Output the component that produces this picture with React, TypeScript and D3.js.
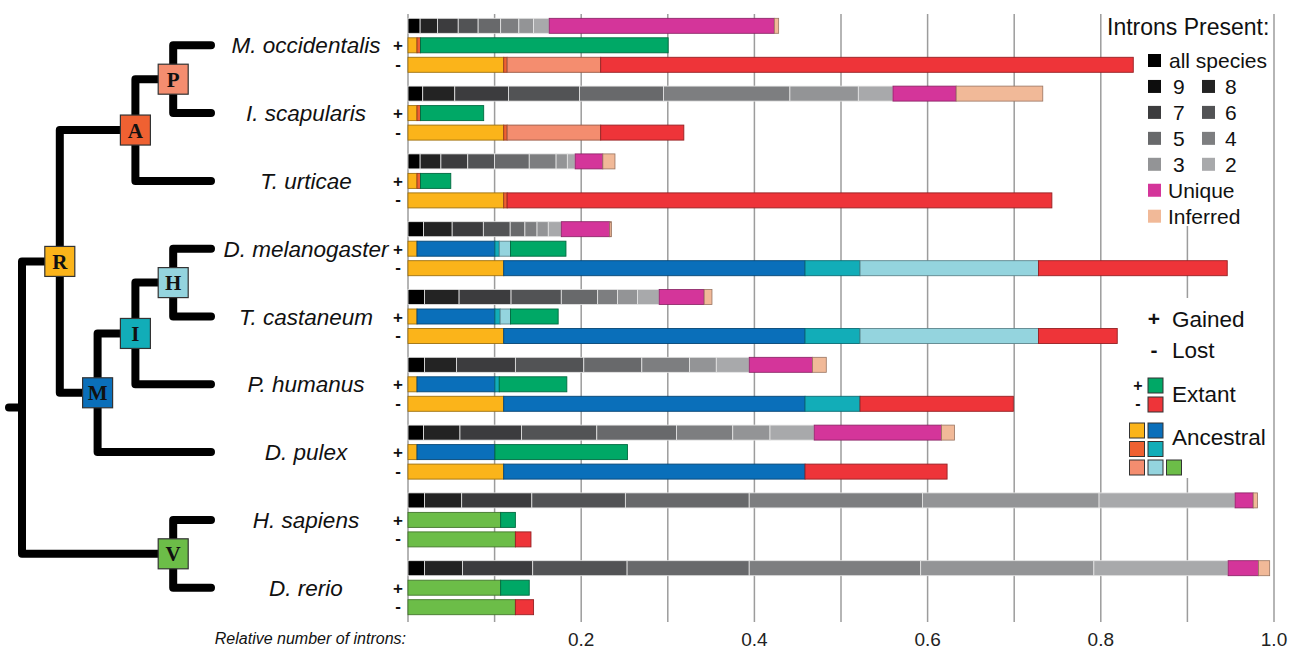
import * as d3 from "d3"

const species = ["M. occidentalis", "I. scapularis", "T. urticae", "D. melanogaster", "T. castaneum", "P. humanus", "D. pulex", "H. sapiens", "D. rerio"]

// introns present in N species (first black block = all species / 9)
const presentAll = [0.014, 0.017, 0.014, 0.018, 0.019, 0.019, 0.018, 0.019, 0.019]
const present8 = [0.020, 0.037, 0.024, 0.033, 0.040, 0.037, 0.042, 0.043, 0.044]
const present7 = [0.024, 0.062, 0.031, 0.036, 0.060, 0.068, 0.071, 0.081, 0.081]
const present6 = [0.023, 0.082, 0.031, 0.031, 0.058, 0.079, 0.087, 0.108, 0.109]
const present5 = [0.026, 0.097, 0.040, 0.017, 0.042, 0.067, 0.092, 0.143, 0.141]
const present4 = [0.021, 0.146, 0.031, 0.014, 0.023, 0.055, 0.065, 0.200, 0.198]
const present3 = [0.017, 0.079, 0.013, 0.013, 0.023, 0.031, 0.043, 0.204, 0.200]
const present2 = [0.018, 0.040, 0.009, 0.015, 0.025, 0.038, 0.051, 0.157, 0.155]
const unique = [0.260, 0.073, 0.032, 0.056, 0.052, 0.073, 0.147, 0.021, 0.035]
const inferred = [0.005, 0.100, 0.014, 0.002, 0.009, 0.016, 0.015, 0.005, 0.013]

// gained (+)
const gainR = [0.0104, 0.0104, 0.0104, 0.0104, 0.0104, 0.0104, 0.0104, 0, 0]
const gainA = [0.004, 0.004, 0.004, 0, 0, 0, 0, 0, 0]
const gainM = [0, 0, 0, 0.090, 0.090, 0.090, 0.090, 0, 0]
const gainI = [0, 0, 0, 0.005, 0.006, 0.005, 0, 0, 0]
const gainH = [0, 0, 0, 0.013, 0.012, 0, 0, 0, 0]
const gainV = [0, 0, 0, 0, 0, 0, 0, 0.107, 0.107]
const gainExtant = [0.286, 0.073, 0.035, 0.064, 0.055, 0.078, 0.153, 0.017, 0.033]

// lost (-)
const lossR = [0.1105, 0.1105, 0.1105, 0.1105, 0.1105, 0.1105, 0.1105, 0, 0]
const lossA = [0.004, 0.004, 0.004, 0, 0, 0, 0, 0, 0]
const lossP = [0.108, 0.108, 0, 0, 0, 0, 0, 0, 0]
const lossM = [0, 0, 0, 0.348, 0.348, 0.348, 0.348, 0, 0]
const lossI = [0, 0, 0, 0.0635, 0.0635, 0.0635, 0, 0, 0]
const lossH = [0, 0, 0, 0.206, 0.206, 0, 0, 0, 0]
const lossV = [0, 0, 0, 0, 0, 0, 0, 0.124, 0.124]
const lossExtant = [0.615, 0.096, 0.629, 0.218, 0.091, 0.177, 0.164, 0.018, 0.021]

// tree: node ids, parents, depth level
const treeIds = ["root", "R", "A", "P", "M", "I", "H", "V", ...species]
const treeParents = ["", "root", "R", "A", "R", "M", "I", "root", "P", "P", "A", "H", "H", "I", "M", "V", "V"]
const treeLevels = [0, 1, 3, 4, 2, 3, 4, 4, 5, 5, 5, 5, 5, 5, 5, 5, 5]

const tickValues = [0.2, 0.4, 0.6, 0.8, 1.0]

const C = {
  R: "#fbb41a", A: "#ef6132", P: "#f48d6f", M: "#0a6fba", I: "#12adb8",
  H: "#94d4de", V: "#6cbd48", gain: "#00a866", loss: "#ee3439",
  unique: "#d4359a", inferred: "#f1b998",
}
const grays = ["#000000", "#0d0d0d", "#232323", "#3c3c3e", "#525355", "#68696b", "#7d7e80", "#939496", "#a8a9ab"]

const presentSeries = [
  { key: "all", vals: presentAll, color: grays[0] },
  { key: "8", vals: present8, color: grays[2] },
  { key: "7", vals: present7, color: grays[3] },
  { key: "6", vals: present6, color: grays[4] },
  { key: "5", vals: present5, color: grays[5] },
  { key: "4", vals: present4, color: grays[6] },
  { key: "3", vals: present3, color: grays[7] },
  { key: "2", vals: present2, color: grays[8] },
  { key: "unique", vals: unique, color: C.unique },
  { key: "inferred", vals: inferred, color: C.inferred },
]
const gainSeries = [
  { key: "R", vals: gainR, color: C.R }, { key: "A", vals: gainA, color: C.A },
  { key: "M", vals: gainM, color: C.M }, { key: "I", vals: gainI, color: C.I },
  { key: "H", vals: gainH, color: C.H }, { key: "V", vals: gainV, color: C.V },
  { key: "ext", vals: gainExtant, color: C.gain },
]
const lossSeries = [
  { key: "R", vals: lossR, color: C.R }, { key: "A", vals: lossA, color: C.A },
  { key: "P", vals: lossP, color: C.P }, { key: "M", vals: lossM, color: C.M },
  { key: "I", vals: lossI, color: C.I }, { key: "H", vals: lossH, color: C.H },
  { key: "V", vals: lossV, color: C.V }, { key: "ext", vals: lossExtant, color: C.loss },
]

const W = 1298
const H = 649
const x = d3.scaleLinear().domain([0, 1]).range([408, 1274])
const ySpecies = d3.scaleBand().domain(species).range([14, 624.2])
const yRow = d3.scaleBand().domain(["present", "gained", "lost"]).range([4.3, 58.3]).paddingInner(0.23)
const treeX = d3.scaleLinear().domain([0, 5]).range([22, 211])

type Ser = { key: string; vals: number[]; color: string }

function stackRows(series: Ser[]) {
  const rows = species.map((s, i) => {
    const r: any = { species: s }
    series.forEach((se) => (r[se.key] = se.vals[i]))
    return r
  })
  return d3.stack().keys(series.map((s) => s.key))(rows)
}

const sans = "'Liberation Sans', Arial, Helvetica, sans-serif"

const Bars = ({ series, row, gray }: { series: Ser[]; row: string; gray?: boolean }) => {
  const stacked = stackRows(series)
  const bh = yRow.bandwidth()
  return (
    <g>
      {stacked.map((layer, li) => {
        const color = series[li].color
        const isGray = gray && li < 8
        const stroke = isGray ? "#e6e6e6" : d3.color(color)!.darker(1.3).formatHex()
        return layer.map((d, i) => {
          const w = x(d[1]) - x(d[0])
          if (w <= 0) return null
          const y = (ySpecies(species[i]) ?? 0) + (yRow(row) ?? 0)
          return (
            <rect key={`${li}-${i}`} x={x(d[0])} y={y} width={w} height={bh}
              fill={color} stroke={stroke} strokeWidth={gray ? 0.8 : 0.9} />
          )
        })
      })}
    </g>
  )
}

export default function App() {
  const root = d3.stratify<{ id: string; parent: string; level: number }>()
    .id((d) => d.id)
    .parentId((d) => d.parent || null)(treeIds.map((id, i) => ({ id, parent: treeParents[i], level: treeLevels[i] })))

  const pos = new Map<string, { x: number; y: number }>()
  const leafY = (s: string) => (ySpecies(s) ?? 0) + (yRow("gained") ?? 0) + yRow.bandwidth() / 2
  root.eachAfter((n) => {
    const px = treeX(n.data.level)
    if (!n.children) pos.set(n.id!, { x: px, y: leafY(n.id!) })
    else {
      const ys = n.children.map((c) => pos.get(c.id!)!.y)
      pos.set(n.id!, { x: px, y: (ys[0] + ys[ys.length - 1]) / 2 })
    }
  })
  const links = root.links()
  const internal = root.descendants().filter((n) => n.children && n.id !== "root")
  const rootPos = pos.get("root")!

  const bh = yRow.bandwidth()

  const pairRows = [["9", "8"], ["7", "6"], ["5", "4"], ["3", "2"]]
  const pairColors = [[grays[1], grays[2]], [grays[3], grays[4]], [grays[5], grays[6]], [grays[7], grays[8]]]
  const legY = d3.scaleLinear().domain([0, 6]).range([60.5, 216.2])
  const sq = 13

  const ancestral = [[C.R, C.M], [C.A, C.I], [C.P, C.H, C.V]]

  return (
    <svg width={W} height={H} style={{ position: "absolute", left: 0, top: 0, display: "block" }} fontFamily={sans}>
      <rect width={W} height={H} fill="white" />

      {/* grid */}
      {x.ticks(10).map((t) => (
        <line key={t} x1={x(t)} x2={x(t)} y1={14} y2={622} stroke="#9c9c9c" strokeWidth={1.5} />
      ))}
      <rect x={1105} y={10} width={165} height={216} fill="white" />
      <rect x={1105} y={298} width={165} height={180} fill="white" />

      {/* tick labels */}
      {tickValues.map((t) => (
        <text key={t} x={x(t)} y={646} textAnchor="middle" fontSize={19} fill="#222">{d3.format(".1f")(t)}</text>
      ))}
      <text x={406} y={644} textAnchor="end" fontSize={16} fontStyle="italic" fill="#111">Relative number of introns:</text>

      {/* bars */}
      <Bars series={presentSeries} row="present" gray />
      <Bars series={gainSeries} row="gained" />
      <Bars series={lossSeries} row="lost" />

      {/* species labels and signs */}
      {species.map((s) => {
        const yb = ySpecies(s) ?? 0
        return (
          <g key={s}>
            <text x={306} y={leafY(s) + 8} textAnchor="middle" fontSize={22.5} fontStyle="italic" fill="#111">{s}</text>
            <text x={398} y={yb + (yRow("gained") ?? 0) + bh / 2 + 6} textAnchor="middle" fontSize={17} fontWeight="bold" fill="#111">+</text>
            <text x={398} y={yb + (yRow("lost") ?? 0) + bh / 2 + 5} textAnchor="middle" fontSize={17} fontWeight="bold" fill="#111">-</text>
          </g>
        )
      })}

      {/* tree */}
      <g fill="none" stroke="#000" strokeWidth={8} strokeLinecap="round" strokeLinejoin="round">
        <path d={`M${rootPos.x - 13},${rootPos.y}H${rootPos.x}`} />
        {links.map((l, i) => {
          const p = pos.get(l.source.id!)!
          const c = pos.get(l.target.id!)!
          return <path key={i} d={`M${p.x},${p.y}V${c.y}H${c.x}`} />
        })}
      </g>
      {internal.map((n) => {
        const p = pos.get(n.id!)!
        return (
          <g key={n.id} transform={`translate(${p.x},${p.y})`}>
            <rect x={-15} y={-15} width={30} height={30} fill={(C as any)[n.id!]} stroke="#333" strokeWidth={1.2} />
            <text y={7.5} textAnchor="middle" fontSize={21} fontWeight="bold" fontFamily="'Liberation Serif', 'Times New Roman', serif" fill="#111">{n.id}</text>
          </g>
        )
      })}

      {/* legend: introns present */}
      <text x={1107} y={35} fontSize={23} fill="#111">Introns Present:</text>
      <rect x={1148} y={legY(0) - sq / 2} width={sq} height={sq} fill={grays[0]} />
      <text x={1169} y={legY(0) + 7.5} fontSize={21} fill="#111">all species</text>
      {pairRows.map((pr, i) => (
        <g key={pr[0]}>
          <rect x={1148} y={legY(i + 1) - sq / 2} width={sq} height={sq} fill={pairColors[i][0]} />
          <text x={1173} y={legY(i + 1) + 7.5} fontSize={21} fill="#111">{pr[0]}</text>
          <rect x={1202} y={legY(i + 1) - sq / 2} width={sq} height={sq} fill={pairColors[i][1]} />
          <text x={1225} y={legY(i + 1) + 7.5} fontSize={21} fill="#111">{pr[1]}</text>
        </g>
      ))}
      <rect x={1148} y={legY(5) - sq / 2} width={sq} height={sq} fill={C.unique} />
      <text x={1168} y={legY(5) + 7.5} fontSize={21} fill="#111">Unique</text>
      <rect x={1148} y={legY(6) - sq / 2} width={sq} height={sq} fill={C.inferred} />
      <text x={1168} y={legY(6) + 7.5} fontSize={21} fill="#111">Inferred</text>

      {/* legend: gained/lost */}
      <text x={1154} y={326} textAnchor="middle" fontSize={21} fontWeight="bold" fill="#111">+</text>
      <text x={1172} y={327} fontSize={22.5} fill="#111">Gained</text>
      <text x={1154} y={357} textAnchor="middle" fontSize={21} fontWeight="bold" fill="#111">-</text>
      <text x={1172} y={358} fontSize={22.5} fill="#111">Lost</text>

      <text x={1138} y={391} textAnchor="middle" fontSize={16} fontWeight="bold" fill="#111">+</text>
      <text x={1138} y={409} textAnchor="middle" fontSize={16} fontWeight="bold" fill="#111">-</text>
      <rect x={1148} y={378} width={15} height={15} fill={C.gain} stroke="#333" strokeWidth={1} />
      <rect x={1148} y={397} width={15} height={15} fill={C.loss} stroke="#333" strokeWidth={1} />
      <text x={1172} y={402} fontSize={22.5} fill="#111">Extant</text>

      {ancestral.map((row, ri) => row.map((c, ci) => (
        <rect key={`${ri}-${ci}`} x={1129.5 + ci * 18.5} y={423 + ri * 18.5} width={15} height={15} fill={c} stroke="#333" strokeWidth={1} />
      )))}
      <text x={1172} y={445} fontSize={22.5} fill="#111">Ancestral</text>
    </svg>
  )
}
